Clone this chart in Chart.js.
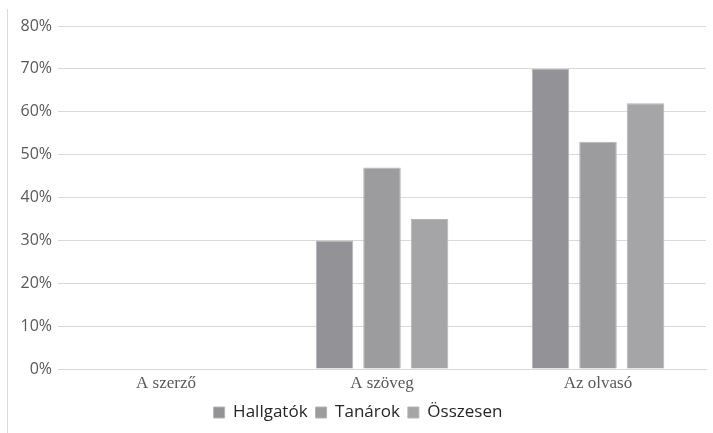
<!DOCTYPE html>
<html>
<head>
<meta charset="utf-8">
<script src="https://cdn.jsdelivr.net/npm/chart.js@4/dist/chart.umd.min.js"></script>
<style>
  body { margin: 0; background: #fff; }
  #wrap { position: relative; width: 713px; height: 433px; }
  #edge { position: absolute; left: 7px; top: 9px; width: 1px; height: 424px; background: #d9d9d9; }
  #chart { position: absolute; left: 0; top: 0; }
</style>
</head>
<body>
<div id="wrap">
  <div id="edge"></div>
  <canvas id="chart" width="713" height="433"></canvas>
</div>
<script>
const categories = ['A szerző', 'A szöveg', 'Az olvasó'];
const hallgatok = [0, 30, 70];
const tanarok = [0, 47, 53];
const osszesen = [0, 35, 62];

const seriesNames = ['Hallgatók', 'Tanárok', 'Összesen'];
const seriesColors = ['#939397', '#9c9c9f', '#a5a5a8'];

const gridColor = '#d9d9d9';

const ctx = document.getElementById('chart').getContext('2d');
new Chart(ctx, {
  type: 'bar',
  data: {
    labels: categories,
    datasets: [hallgatok, tanarok, osszesen].map((values, i) => ({
      label: seriesNames[i],
      data: values,
      backgroundColor: seriesColors[i],
      borderColor: '#b4b4b6',
      borderWidth: 1,
      categoryPercentage: 0.66,
      barPercentage: 0.79,
    }))
  },
  options: {
    responsive: false,
    animation: false,
    layout: { padding: { top: 26, right: 7, bottom: 2, left: 10 } },
    plugins: {
      tooltip: { enabled: false },
      legend: {
        position: 'bottom',
        labels: {
          boxWidth: 11,
          boxHeight: 11,
          padding: 8,
          color: '#262626',
          font: { family: 'Open Sans', size: 17 }
        }
      }
    },
    scales: {
      x: {
        grid: { display: false, drawTicks: false },
        border: { color: gridColor, width: 1 },
        ticks: {
          color: '#595959',
          padding: 4,
          font: { family: 'Liberation Serif', size: 17 }
        },
        afterFit: s => { s.height = 27; }
      },
      y: {
        min: 0,
        max: 80,
        grid: { color: gridColor, lineWidth: 1, drawTicks: false },
        border: { display: false },
        ticks: {
          stepSize: 10,
          padding: 6,
          color: '#595959',
          font: { family: 'Open Sans', size: 16 },
          callback: v => v + '%'
        },
        afterFit: s => { s.width = 48; }
      }
    }
  }
});
</script>
</body>
</html>
